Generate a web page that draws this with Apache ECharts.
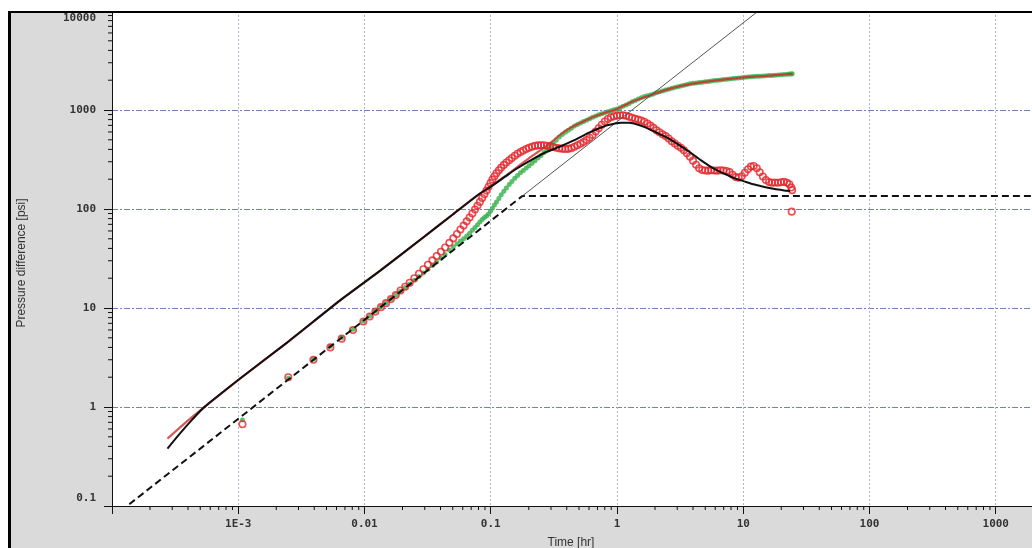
<!DOCTYPE html>
<html>
<head>
<meta charset="utf-8">
<script src="https://cdn.jsdelivr.net/npm/echarts@6/dist/echarts.min.js"></script>
<style>
html,body{margin:0;padding:0;background:#fff;}
#chart{width:1032px;height:548px;}
</style>
</head>
<body>
<div id="chart"></div>
<script>
// ---- tick labels ----
const xTickValues = [0.0001, 0.001, 0.01, 0.1, 1, 10, 100, 1000, 10000];
const xTickLabels = ['', '1E-3', '0.01', '0.1', '1', '10', '100', '1000', ''];
const yTickValues = [0.1, 1, 10, 100, 1000, 10000];
const yTickLabels = ['0.1', '1', '10', '100', '1000', '10000'];
const minorSteps = [2, 3, 4, 5, 6, 7, 8, 9];

// ---- data: pressure change (green points) ----
const deltaPData = [
[0.00108,0.74],[0.00249,1.95],[0.00394,3.05],[0.00537,4.1],[0.0066,5.0],[0.0081,6.1],[0.0098,7.4],[0.011,8.3],[0.0122,9.3],[0.0135,10.3],
[0.0148,11.3],[0.0162,12.4],[0.0177,13.5],[0.0193,14.8],[0.021,16.1],[0.0228,17.5],[0.0248,19.1],[0.027,20.8],[0.0293,22.6],[0.0318,24.6],
[0.0345,26.8],[0.0373,29.2],[0.0403,31.8],[0.0435,34.8],[0.047,38.5],[0.0505,41.5],[0.054,44.5],[0.0575,47.5],[0.061,50],[0.0645,53.5],
[0.068,57],[0.0715,61],[0.075,65],[0.0785,69.5],[0.082,74],[0.0855,78.5],[0.089,82],[0.0925,85],[0.096,89],[0.0995,95],
[0.103,102],[0.107,110],[0.111,118],[0.116,128],[0.121,139],[0.127,151],[0.133,163],[0.14,177],[0.147,190],[0.155,205],
[0.163,218],[0.172,232],[0.181,245],[0.191,259],[0.201,274],[0.212,290],[0.224,307],[0.237,327],[0.25,348],[0.264,372],
[0.279,398],[0.295,428],[0.312,460],[0.33,495],[0.349,535],[0.369,565],[0.39,595],[0.412,625],[0.435,655],[0.46,690],
[0.486,715],[0.514,740],[0.543,765],[0.574,790],[0.607,815],[0.641,845],[0.678,870],[0.716,893],[0.757,915],[0.8,938],
[0.846,962],[0.894,985],[0.945,1005],[0.999,1025],[1.056,1055],[1.116,1090],[1.18,1125],[1.247,1165],[1.318,1210],[1.393,1250],
[1.473,1290],[1.557,1330],[1.646,1365],[1.74,1395],[1.839,1420],[1.944,1450],[2.055,1490],[2.172,1525],[2.296,1560],[2.427,1592],
[2.566,1625],[2.712,1655],[2.867,1685],[3.031,1715],[3.204,1750],[3.387,1780],[3.58,1810],[3.785,1840],[4.0,1860],[4.23,1878],
[4.47,1893],[4.73,1908],[5.0,1925],[5.28,1945],[5.58,1965],[5.9,1985],[6.24,2000],[6.6,2015],[6.97,2030],[7.37,2045],
[7.79,2060],[8.24,2075],[8.71,2090],[9.2,2105],[9.73,2120],[10.3,2140],[10.9,2152],[11.5,2164],[12.1,2175],[12.8,2186],
[13.5,2196],[14.3,2205],[15.1,2214],[16.0,2225],[16.9,2236],[17.8,2247],[18.8,2258],[19.9,2270],[21.0,2282],[22.2,2295],
[23.2,2306],[24.0,2315],[24.4,2320]
];

// ---- data: pressure derivative (red circles) ----
const derivativeData = [
[0.00108,0.67],[0.00249,2.0],[0.00394,3.0],[0.00537,4.0],[0.0066,4.9],[0.0081,6.0],[0.0098,7.3],[0.011,8.2],[0.0122,9.2],[0.0135,10.2],
[0.0148,11.2],[0.0162,12.3],[0.0177,13.5],[0.0193,15.0],[0.021,16.4],[0.0228,18.0],[0.0248,20.0],[0.027,22.2],[0.0293,24.6],[0.0318,27.3],
[0.0345,30.3],[0.0373,33.5],[0.0403,37.0],[0.0435,40.8],[0.047,45.5],[0.0505,50.5],[0.054,56],[0.0575,62],[0.061,68],[0.0645,75],
[0.068,82],[0.0715,90],[0.075,99],[0.0785,108],[0.082,118],[0.0855,129],[0.089,141],[0.0925,154],[0.096,168],[0.0995,183],
[0.103,198],[0.107,214],[0.111,230],[0.116,246],[0.121,262],[0.127,279],[0.133,295],[0.14,311],[0.147,328],[0.155,345],
[0.163,361],[0.172,376],[0.181,390],[0.191,404],[0.201,416],[0.212,426],[0.224,434],[0.237,439],[0.25,441],[0.264,440],
[0.279,436],[0.295,430],[0.312,423],[0.33,416],[0.349,410],[0.369,405],[0.39,403],[0.412,405],[0.435,412],[0.46,425],
[0.486,440],[0.514,456],[0.543,474],[0.574,497],[0.607,525],[0.641,560],[0.678,605],[0.716,655],[0.757,710],[0.8,765],
[0.846,812],[0.894,846],[0.945,866],[0.999,878],[1.056,885],[1.116,884],[1.18,874],[1.247,856],[1.318,834],[1.393,815],
[1.473,800],[1.557,783],[1.646,760],[1.74,730],[1.839,695],[1.944,660],[2.055,625],[2.172,595],[2.296,568],[2.427,545],
[2.566,515],[2.712,484],[2.867,458],[3.031,436],[3.204,415],[3.387,392],[3.58,365],[3.785,338],[4.0,308],[4.23,280],
[4.47,258],[4.73,248],[5.0,245],[5.28,244],[5.58,246],[5.9,245],[6.24,244],[6.6,246],[6.97,245],[7.37,242],
[7.79,236],[8.24,222],[8.71,210],[9.2,207],[9.73,214],[10.3,232],[10.9,252],[11.5,268],[12.1,272],[12.8,258],
[13.5,235],[14.3,213],[15.1,196],[16.0,187],[16.9,184],[17.8,185],[18.8,184],[19.9,186],[21.0,188],[22.2,184],
[23.2,178],[24.0,165],[24.4,155],[24.2,94]
];

// ---- model pressure change (red line) ----
const modelDeltaP = [
[0.000275,0.48],[0.00035,0.63],[0.00043,0.79],[0.00053,0.98],[0.00104,1.95],[0.00245,4.5],[0.00645,12],[0.0134,24],[0.03,53],[0.05,88],
[0.08,140],[0.1,170],[0.13,215],[0.16,262],[0.2,325],[0.25,395],[0.3,470],[0.34,540],[0.4,630],[0.5,730],
[0.62,830],[0.75,912],[1.0,1025],[1.3,1205],[1.86,1419],[2.45,1596],[3.22,1753],[4.64,1902],[6.69,2017],[10.1,2138],
[15.1,2214],[24.6,2323]
];

// ---- model derivative (black line) ----
const modelDerivative = [
[0.000275,0.38],[0.00035,0.55],[0.00043,0.74],[0.00053,0.98],[0.00104,1.95],[0.00245,4.5],[0.00645,12],[0.0134,24],[0.03,53],[0.05,88],
[0.08,140],[0.1,168],[0.13,212],[0.16,255],[0.207,310],[0.27,372],[0.35,425],[0.45,490],[0.6,590],[0.746,665],
[0.85,705],[0.95,728],[1.08,745],[1.25,742],[1.45,715],[1.64,675],[2.0,600],[2.54,520],[3.0,455],[3.66,385],
[4.64,310],[5.5,268],[6.34,243],[7.5,220],[8.49,205],[10.2,190],[12,178],[13.9,170],[16.5,162],[19,157],
[21,154],[23.5,152]
];

// ---- straight-line guides ----
const storageRadialLine = [[0.0001,0.076],[0.1776,135],[10000,135]];
const unitSlopeLine = [[0.1776,135],[20,15200]];

// ---- helpers ----
function lookupLabel(values, labels, v) {
  for (let i = 0; i < values.length; i++) {
    if (Math.abs(Math.log10(v) - Math.log10(values[i])) < 1e-6) return labels[i];
  }
  return '';
}
const xMinor = [];
for (let e = -4; e < 4; e++) minorSteps.forEach(k => xMinor.push([k * Math.pow(10, e), 0.1]));
const yMinor = [];
for (let e = -1; e < 4; e++) minorSteps.forEach(k => yMinor.push([0.0001, k * Math.pow(10, e)]));

const chart = echarts.init(document.getElementById('chart'), null, {renderer: 'canvas'});
const tickFont = 'DejaVu Sans Mono';

chart.setOption({
  animation: false,
  backgroundColor: '#dadada',
  grid: {left: 112, width: 1010, top: 11, height: 495, show: true, backgroundColor: '#ffffff', borderWidth: 0,
         containLabel: false, outerBoundsMode: 'none'},
  xAxis: {
    type: 'log', logBase: 10, min: 0.0001, max: 10000, splitNumber: 10,
    axisLine: {show: true, onZero: false, lineStyle: {color: '#111', width: 1}},
    axisTick: {show: true, length: 8, lineStyle: {color: '#111'}},
    axisLabel: {
      margin: 13, fontFamily: tickFont, fontWeight: 'bold', fontSize: 11, color: '#333',
      showMinLabel: true, showMaxLabel: true, hideOverlap: false,
      formatter: v => lookupLabel(xTickValues, xTickLabels, v)
    },
    splitLine: {show: true, lineStyle: {color: '#a9b6ca', type: [2, 2], width: 1}}
  },
  yAxis: {
    type: 'log', logBase: 10, min: 0.1, max: 10000, splitNumber: 5,
    axisLine: {show: true, onZero: false, lineStyle: {color: '#111', width: 1}},
    axisTick: {show: true, length: 8, lineStyle: {color: '#111'}},
    axisLabel: {
      margin: 16, fontFamily: tickFont, fontWeight: 'bold', fontSize: 11, color: '#333',
      showMinLabel: true, showMaxLabel: true,
      formatter: v => {
        const s = lookupLabel(yTickValues, yTickLabels, v);
        if (s === '0.1') return '{lo|' + s + '}';
        if (s === '10000') return '{hi|' + s + '}';
        return s;
      },
      rich: {
        lo: {padding: [0, 0, 15, 0], fontFamily: tickFont, fontWeight: 'bold', fontSize: 11, color: '#333'},
        hi: {padding: [15, 0, 0, 0], fontFamily: tickFont, fontWeight: 'bold', fontSize: 11, color: '#333'}
      }
    },
    splitLine: {show: true, lineStyle: {color: '#6f82b8', type: [6, 2, 2, 2], width: 1}}
  },
  series: [
    {
      type: 'custom', name: 'xMinorTicks', data: xMinor, clip: false, silent: true, z: 1,
      renderItem: (params, api) => {
        const p = api.coord([api.value(0), api.value(1)]);
        return {type: 'line', shape: {x1: p[0], y1: p[1], x2: p[0], y2: p[1] + 4}, style: {stroke: '#111', lineWidth: 1}};
      }
    },
    {
      type: 'custom', name: 'yMinorTicks', data: yMinor, clip: false, silent: true, z: 1,
      renderItem: (params, api) => {
        const p = api.coord([api.value(0), api.value(1)]);
        return {type: 'line', shape: {x1: p[0] - 4, y1: p[1], x2: p[0], y2: p[1]}, style: {stroke: '#111', lineWidth: 1}};
      }
    },
    {
      type: 'scatter', name: 'Pressure change', data: deltaPData, symbol: 'circle', symbolSize: 5,
      itemStyle: {color: '#36b04a'}, z: 2, silent: true
    },
    {
      type: 'scatter', name: 'Derivative', data: derivativeData, symbol: 'circle', symbolSize: 6.5,
      itemStyle: {color: 'rgba(255,255,255,0)', borderColor: '#e3262b', borderWidth: 1.6}, z: 3, silent: true
    },
    {
      type: 'line', name: 'Model pressure', data: modelDeltaP, showSymbol: false, smooth: 0.25, clip: true,
      lineStyle: {color: '#d12a2a', width: 2.2, opacity: 0.8}, z: 4, silent: true
    },
    {
      type: 'line', name: 'Storage / radial', data: storageRadialLine, showSymbol: false, clip: true,
      lineStyle: {color: '#111', width: 2, type: [7, 4]}, z: 5, silent: true
    },
    {
      type: 'line', name: 'Unit slope', data: unitSlopeLine, showSymbol: false, clip: true,
      lineStyle: {color: '#555', width: 1}, z: 5, silent: true
    },
    {
      type: 'line', name: 'Model derivative', data: modelDerivative, showSymbol: false, smooth: 0.25, clip: true,
      lineStyle: {color: '#111', width: 2}, z: 6, silent: true
    }
  ],
  graphic: [
    {type: 'rect', shape: {x: 0, y: 0, width: 1032, height: 11}, style: {fill: '#fff'}, z: 100, silent: true},
    {type: 'rect', shape: {x: 0, y: 0, width: 8, height: 548}, style: {fill: '#fff'}, z: 100, silent: true},
    {type: 'line', shape: {x1: 9.5, y1: 11, x2: 9.5, y2: 548}, style: {stroke: '#000', lineWidth: 3}, z: 101, silent: true},
    {type: 'line', shape: {x1: 8, y1: 12, x2: 1032, y2: 12}, style: {stroke: '#000', lineWidth: 2}, z: 101, silent: true},
    {type: 'text', x: 571, y: 543, style: {text: 'Time [hr]', fontFamily: 'Liberation Sans Narrow, Liberation Sans, sans-serif', fontSize: 12, fill: '#333', align: 'center', verticalAlign: 'middle'}, z: 101, silent: true},
    {type: 'text', x: 22, y: 263, rotation: Math.PI / 2, style: {text: 'Pressure difference [psi]', fontFamily: 'Liberation Sans Narrow, Liberation Sans, sans-serif', fontSize: 12, fill: '#333', align: 'center', verticalAlign: 'middle'}, z: 101, silent: true}
  ]
});
</script>
</body>
</html>
